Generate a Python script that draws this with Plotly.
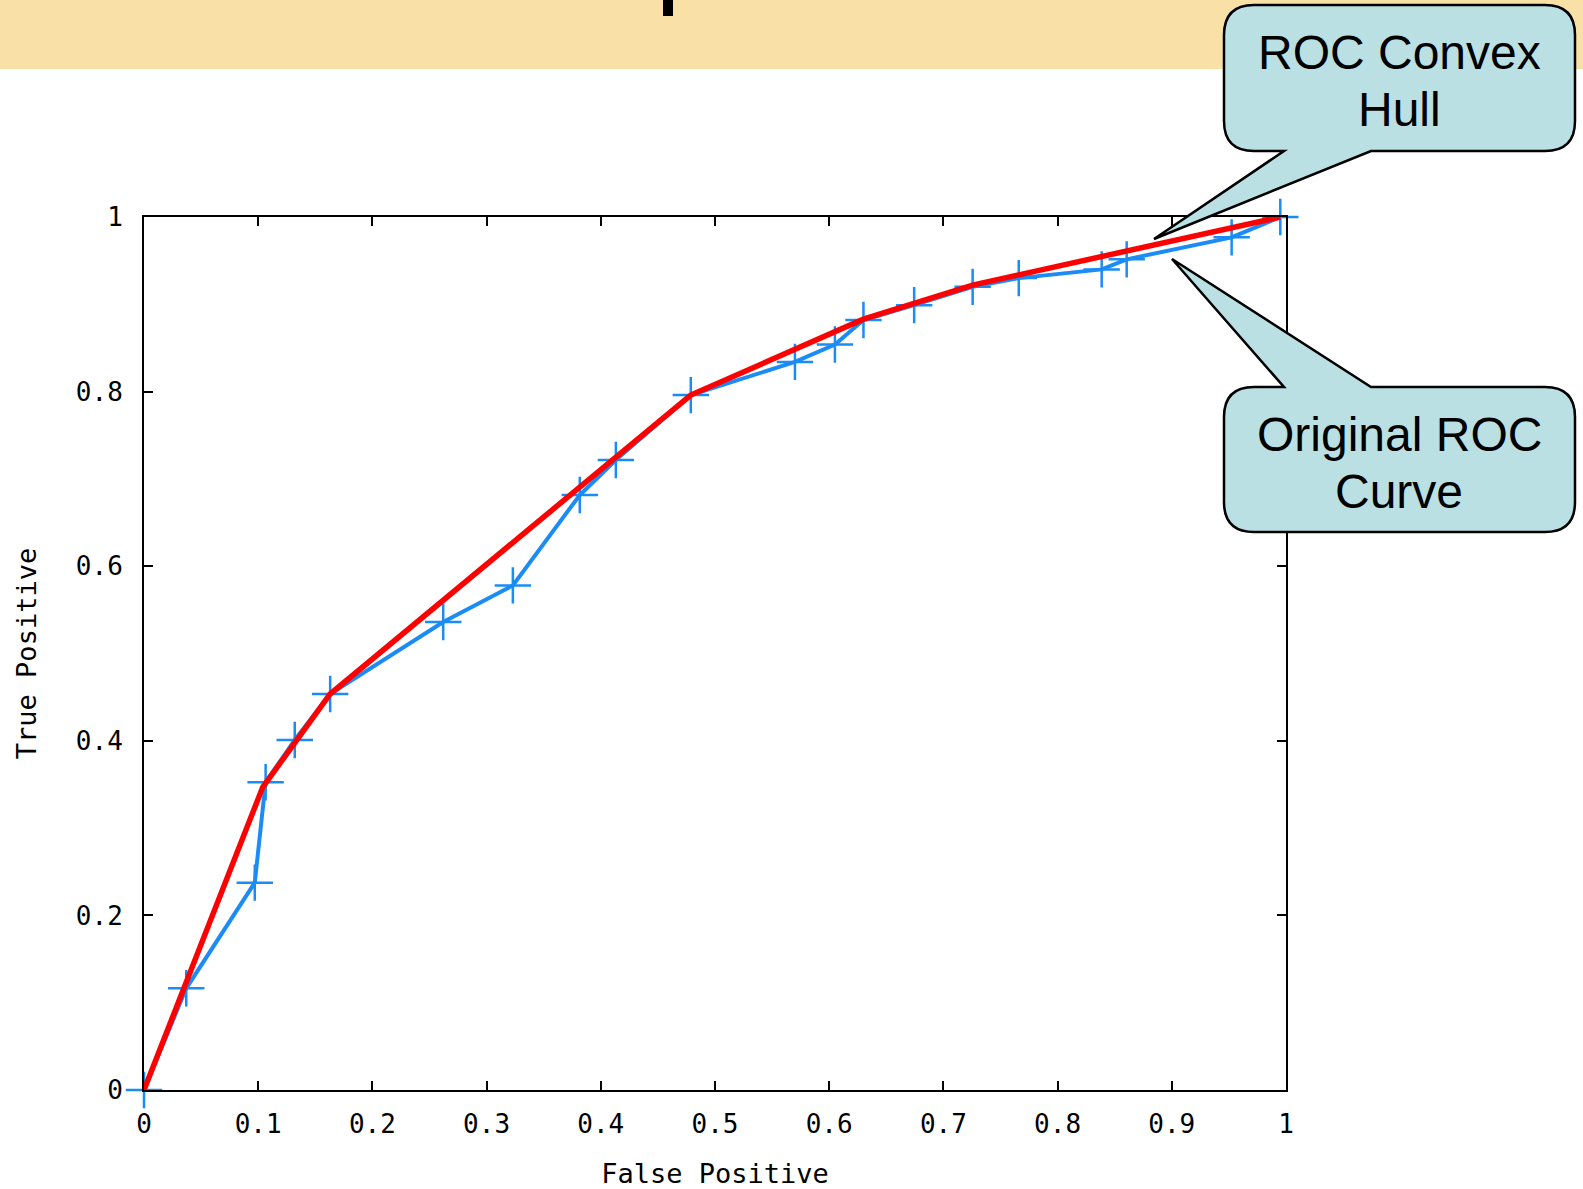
import plotly.graph_objects as go

# ---- data ----
roc_fp = [0.0, 0.037, 0.097, 0.1065, 0.132, 0.163, 0.262, 0.323, 0.3816, 0.4132, 0.4788,
          0.570, 0.605, 0.630, 0.6744, 0.7256, 0.766, 0.8386, 0.8605, 0.9524, 0.995]
roc_tp = [0.0, 0.1165, 0.2375, 0.3525, 0.401, 0.4536, 0.536, 0.578, 0.6816, 0.7216, 0.796,
          0.834, 0.854, 0.882, 0.899, 0.920, 0.930, 0.940, 0.9515, 0.9767, 1.0]

hull_fp = [0.0, 0.104, 0.163, 0.4788, 0.630, 0.7256, 0.995]
hull_tp = [0.0, 0.347, 0.4536, 0.796, 0.883, 0.922, 1.0]

x_ticks = [0, 0.1, 0.2, 0.3, 0.4, 0.5, 0.6, 0.7, 0.8, 0.9, 1]
x_tick_labels = ["0", "0.1", "0.2", "0.3", "0.4", "0.5", "0.6", "0.7", "0.8", "0.9", "1"]
y_ticks = [0, 0.2, 0.4, 0.6, 0.8, 1]
y_tick_labels = ["0", "0.2", "0.4", "0.6", "0.8", "1"]

hull_label = ["ROC Convex", "Hull"]
curve_label = ["Original ROC", "Curve"]
x_title = "False Positive"
y_title = "True Positive"

# ---- layout geometry (pixels) ----
W, H = 1583, 1189
L, R, T, B = 144, 297, 217, 99
PW, PH = W - L - R, H - T - B


def px(x):
    return (x - L) / PW


def py(y):
    return (H - B - y) / PH


def callout_path(x0, y0, x1, y1, r, tb1, tb2, tip, tail_bottom=True):
    tx, ty = tip
    s = f"M {px(x0 + r)},{py(y0)} "
    if not tail_bottom:
        s += f"L {px(tb1)},{py(y0)} L {px(tx)},{py(ty)} L {px(tb2)},{py(y0)} "
    s += f"L {px(x1 - r)},{py(y0)} Q {px(x1)},{py(y0)} {px(x1)},{py(y0 + r)} "
    s += f"L {px(x1)},{py(y1 - r)} Q {px(x1)},{py(y1)} {px(x1 - r)},{py(y1)} "
    if tail_bottom:
        s += f"L {px(tb2)},{py(y1)} L {px(tx)},{py(ty)} L {px(tb1)},{py(y1)} "
    s += f"L {px(x0 + r)},{py(y1)} Q {px(x0)},{py(y1)} {px(x0)},{py(y1 - r)} "
    s += f"L {px(x0)},{py(y0 + r)} Q {px(x0)},{py(y0)} {px(x0 + r)},{py(y0)} Z"
    return s


fig = go.Figure()

fig.add_trace(go.Scatter(
    x=roc_fp, y=roc_tp, mode="lines+markers",
    line=dict(color="#1b8cf5", width=4),
    marker=dict(symbol="cross-thin", size=26, line=dict(color="#1b8cf5", width=2.5)),
    cliponaxis=False, showlegend=False, name="Original ROC Curve",
))
fig.add_trace(go.Scatter(
    x=hull_fp, y=hull_tp, mode="lines",
    line=dict(color="#ff0000", width=5.5),
    cliponaxis=False, showlegend=False, name="ROC Convex Hull",
))

shapes = [
    # banner
    dict(type="rect", xref="paper", yref="paper", x0=px(0), x1=px(W), y0=py(69), y1=py(0),
         fillcolor="#f8e0a6", line=dict(width=0), layer="below"),
    dict(type="rect", xref="paper", yref="paper", x0=px(663), x1=px(673), y0=py(16), y1=py(0),
         fillcolor="#000000", line=dict(width=0), layer="below"),
    # callouts
    dict(type="path", xref="paper", yref="paper",
         path=callout_path(1224, 5, 1575, 151, 30, 1284, 1371, (1154, 239), True),
         fillcolor="#bae0e3", line=dict(color="#000000", width=2.5)),
    dict(type="path", xref="paper", yref="paper",
         path=callout_path(1224, 387, 1575, 532, 30, 1284, 1371, (1172, 259), False),
         fillcolor="#bae0e3", line=dict(color="#000000", width=2.5)),
]

ann_font = dict(family="Liberation Sans, Arial, sans-serif", size=48, color="#000000")
annotations = []
for txt, yy in zip(hull_label, [52, 109]):
    annotations.append(dict(text=txt, x=px(1399), y=py(yy), xref="paper", yref="paper",
                            showarrow=False, xanchor="center", yanchor="middle", font=ann_font))
for txt, yy in zip(curve_label, [434, 491]):
    annotations.append(dict(text=txt, x=px(1399), y=py(yy), xref="paper", yref="paper",
                            showarrow=False, xanchor="center", yanchor="middle", font=ann_font))

mono = dict(family="DejaVu Sans Mono, monospace", size=26, color="#000000")
title_font = dict(family="DejaVu Sans Mono, monospace", size=27, color="#000000")
axis_common = dict(
    showgrid=False, zeroline=False, showline=True, linecolor="#000000", linewidth=2,
    mirror="ticks", ticks="inside", ticklen=9, tickwidth=2, tickcolor="#000000",
    tickfont=mono,
)

fig.update_layout(
    width=W, height=H,
    margin=dict(l=L, r=R, t=T, b=B, autoexpand=False),
    paper_bgcolor="#ffffff", plot_bgcolor="#ffffff",
    shapes=shapes, annotations=annotations,
    xaxis=dict(range=[0, 1], tickvals=x_ticks, ticktext=x_tick_labels,
               ticklabelstandoff=10,
               title=dict(text=x_title, font=title_font, standoff=30),
               **axis_common),
    yaxis=dict(range=[0, 1], tickvals=y_ticks, ticktext=y_tick_labels,
               ticklabelstandoff=14,
               title=dict(text=y_title, font=title_font, standoff=31),
               **axis_common),
)

fig.write_html("out.html")
